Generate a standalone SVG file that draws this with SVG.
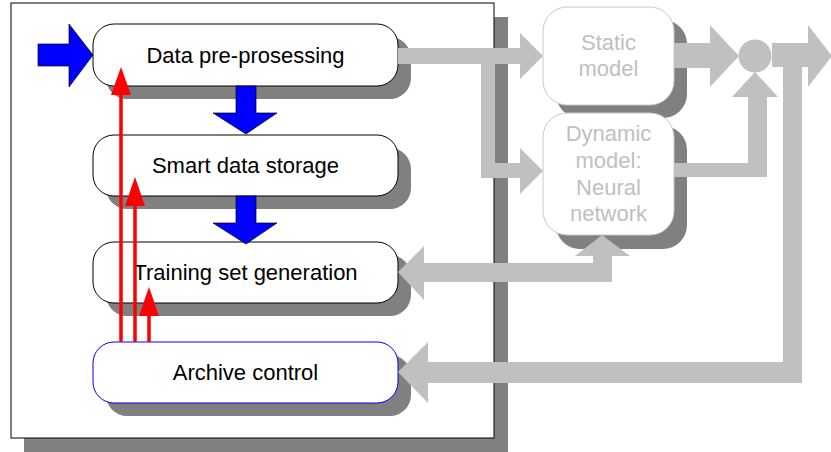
<svg xmlns="http://www.w3.org/2000/svg" width="831" height="452" viewBox="0 0 831 452">
<style>
.sh{fill:#808080}
.nd{fill:#ffffff;stroke:#000000;stroke-width:1}
.ndb{fill:#ffffff;stroke:#0000ff;stroke-width:1}
.ndg{fill:#ffffff;stroke:#c8c8c8;stroke-width:1}
.t{font-family:"Liberation Sans",Arial,sans-serif;font-size:22px;text-anchor:middle;fill:#000000}
.tg{font-family:"Liberation Sans",Arial,sans-serif;font-size:22px;text-anchor:middle;fill:#c0c0c0}
.gr{fill:#c0c0c0}
.bl{fill:#0000ff;stroke:#000000;stroke-width:0.7;stroke-linejoin:miter}
.rl{stroke:#ff0000;stroke-width:3.5;fill:none}
.rh{fill:#ff0000}
</style>
<rect width="831" height="452" fill="#ffffff"/>
<g id="frame">
<rect x="24" y="17" width="484" height="440" class="sh"/>
<rect x="11" y="3" width="483" height="435" fill="#ffffff" stroke="#000000" stroke-width="1"/>
</g>
<g id="node-preprocessing">
<rect x="106" y="37" width="305" height="62" rx="21" class="sh"/>
<rect x="93" y="24" width="305" height="62" rx="21" class="nd"/>
<text x="245.5" y="62.5" class="t">Data pre-prosessing</text>
</g>
<g id="node-storage">
<rect x="106" y="148" width="305" height="61" rx="21" class="sh"/>
<rect x="93" y="135" width="305" height="61" rx="21" class="nd"/>
<text x="245.5" y="173" class="t">Smart data storage</text>
</g>
<g id="node-training">
<rect x="106" y="255" width="305" height="61" rx="21" class="sh"/>
<rect x="93" y="242" width="305" height="61" rx="21" class="nd"/>
<text x="245.5" y="279.5" class="t">Training set generation</text>
</g>
<g id="node-archive">
<rect x="106" y="355" width="305" height="61" rx="21" class="sh"/>
<rect x="93" y="342" width="305" height="61" rx="21" class="ndb"/>
<text x="245.5" y="379.5" class="t">Archive control</text>
</g>
<g id="node-static">
<rect x="556" y="20" width="131" height="98" rx="24" class="sh"/>
<rect x="543" y="7" width="131" height="98" rx="24" class="ndg"/>
<text x="608.5" y="49.5" class="tg">Static</text>
<text x="608.5" y="76" class="tg">model</text>
</g>
<g id="node-dynamic">
<rect x="556" y="126" width="131" height="123" rx="24" class="sh"/>
<rect x="543" y="113" width="131" height="122" rx="24" class="ndg"/>
<text x="608.5" y="141" class="tg">Dynamic</text>
<text x="608.5" y="168" class="tg">model:</text>
<text x="608.5" y="195" class="tg">Neural</text>
<text x="608.5" y="221" class="tg">network</text>
</g>
<g id="node-sum">
<circle cx="755" cy="56" r="16.5" class="gr"/>
</g>
<g id="connectors">
<polygon class="gr" points="398,48 520,48 520,33 543,56 520,79 520,64 495,64 495,163 520,163 520,148 543,171 520,194 520,178 481,178 481,64 398,64"/>
<polygon class="gr" points="674,43 710,43 710,25 739,56 710,87 710,68 674,68"/>
<polygon class="gr" points="772,43 808,43 808,25 832,56 808,87 808,67 802,67 802,383 428,383 428,403 398,372 428,342 428,362 783,362 783,67 772,67"/>
<polygon class="gr" points="674,163 748,163 748,97 732,97 755,72 778,97 767,97 767,177 674,177"/>
<polygon class="gr" points="398,272 424,246 424,263 593,263 593,256 575,256 602,235 630,256 612,256 612,282 424,282 424,300"/>
<polygon class="bl" points="38,44 69,44 69,24 93,55 69,87 69,66 38,66"/>
<polygon class="bl" points="236,86 256,86 256,113 277,113 246,134 213,113 236,113"/>
<polygon class="bl" points="236,196 256,196 256,223 277,223 246,244 213,223 236,223"/>
<line class="rl" x1="121" y1="342" x2="121" y2="94"/>
<polygon class="rh" points="111,95 121,67 131,95"/>
<line class="rl" x1="135" y1="342" x2="135" y2="205"/>
<polygon class="rh" points="125,206 135,177 145,206"/>
<line class="rl" x1="149" y1="342" x2="149" y2="315"/>
<polygon class="rh" points="139,316 149,287 159,316"/>
</g>
</svg>
